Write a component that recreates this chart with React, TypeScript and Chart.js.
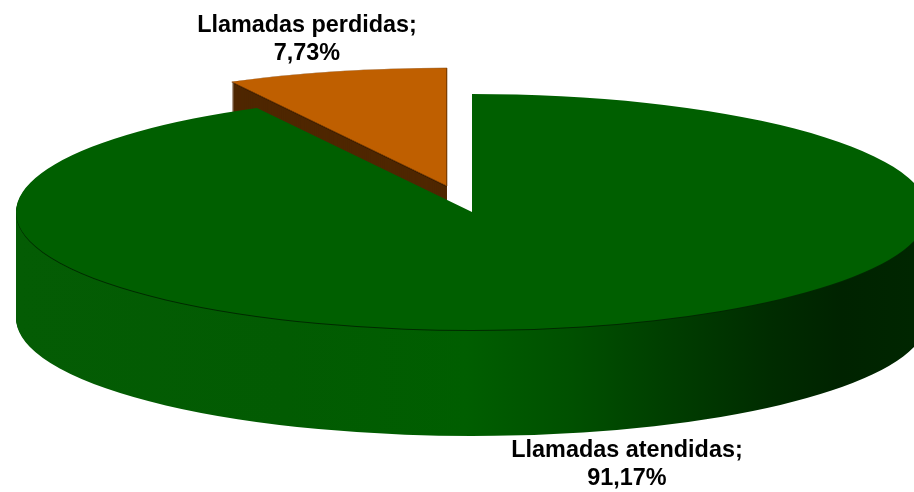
import React, { useEffect, useRef } from "react";
import { Chart, registerables } from "chart.js";

Chart.register(...registerables);

const categories = ["Llamadas atendidas", "Llamadas perdidas"];
const values = [91.17, 7.73];
const topColors = ["#005f00", "#bf5f00"];
const wallColors = ["#005f00", "#4f2700"];
const rimColors = ["#002a00", "#2e1700"];
const explode = [0, 0.228];
const labelCenters = [
  { x: 627, y: [451, 479] },
  { x: 307, y: [26, 54] },
];
const wallStops: [number, string][] = [
  [0, "#045c04"],
  [0.3, "#025b02"],
  [0.5, "#005e00"],
  [0.62, "#005000"],
  [0.72, "#003f00"],
  [0.84, "#002c00"],
  [0.92, "#002300"],
  [1, "#002600"],
];

const CX = 472;
const CY = 212;
const RX = 456;
const RY = 118;
const DEPTH = 106;

const pie3d = {
  id: "pie3d",
  beforeDatasetsDraw(chart: any) {
    const ctx = chart.ctx as CanvasRenderingContext2D;
    const arcs = chart.getDatasetMeta(0).data as any[];
    const r = arcs[0].outerRadius;
    const sx = RX / r;
    const sy = RY / r;
    const ax = arcs[0].x;
    const ay = arcs[0].y;
    const toChartX = (X: number) => (X - CX) / sx + ax;

    const grad = ctx.createLinearGradient(toChartX(16), 0, toChartX(914), 0);
    wallStops.forEach(([p, c]) => grad.addColorStop(p, c));

    const paint = (arc: any, i: number, dy: number, fill: any, outline = false) => {
      const mid = (arc.startAngle + arc.endAngle) / 2;
      const saved = arc.options;
      arc.options = {
        ...saved,
        backgroundColor: fill,
        borderColor: "#7a3d00",
        borderWidth: outline ? 0.6 : 0,
        borderAlign: "center",
        offset: 0,
      };
      ctx.save();
      ctx.translate(CX, CY + dy);
      ctx.scale(sx, sy);
      ctx.translate(-ax, -ay);
      ctx.translate(Math.cos(mid) * explode[i] * r, Math.sin(mid) * explode[i] * r);
      arc.draw(ctx);
      ctx.restore();
      arc.options = saved;
    };

    // far (exploded) slice first, large slice painted over it
    [1, 0].forEach((i) => {
      const arc = arcs[i];
      for (let d = DEPTH; d >= 2; d--) {
        paint(arc, i, d, i === 0 ? grad : wallColors[i]);
      }
      paint(arc, i, 1, rimColors[i]);
      paint(arc, i, 0, topColors[i], i === 1);
    });
    return false;
  },
  afterDraw(chart: any) {
    const ctx = chart.ctx as CanvasRenderingContext2D;
    ctx.save();
    ctx.fillStyle = "#000000";
    ctx.font = 'bold 23.4px "Liberation Sans"';
    ctx.textAlign = "center";
    ctx.textBaseline = "middle";
    categories.forEach((name, i) => {
      const pos = labelCenters[i];
      ctx.fillText(name + ";", pos.x, pos.y[0]);
      ctx.fillText(values[i].toFixed(2).replace(".", ",") + "%", pos.x, pos.y[1]);
    });
    ctx.restore();
  },
};

export default function App() {
  const ref = useRef<HTMLCanvasElement>(null);
  useEffect(() => {
    const chart = new Chart(ref.current as HTMLCanvasElement, {
      type: "pie",
      data: {
        labels: categories,
        datasets: [{ data: values, backgroundColor: topColors, borderWidth: 0 }],
      },
      options: {
        responsive: false,
        animation: false,
        layout: { padding: 0 },
        plugins: { legend: { display: false }, tooltip: { enabled: false } },
      },
      plugins: [pie3d],
    } as any);
    return () => chart.destroy();
  }, []);
  return (
    <div style={{ position: "absolute", left: 0, top: 0, width: 914, height: 492, background: "#fff" }}>
      <canvas ref={ref} width={914} height={492} style={{ display: "block" }} />
    </div>
  );
}
